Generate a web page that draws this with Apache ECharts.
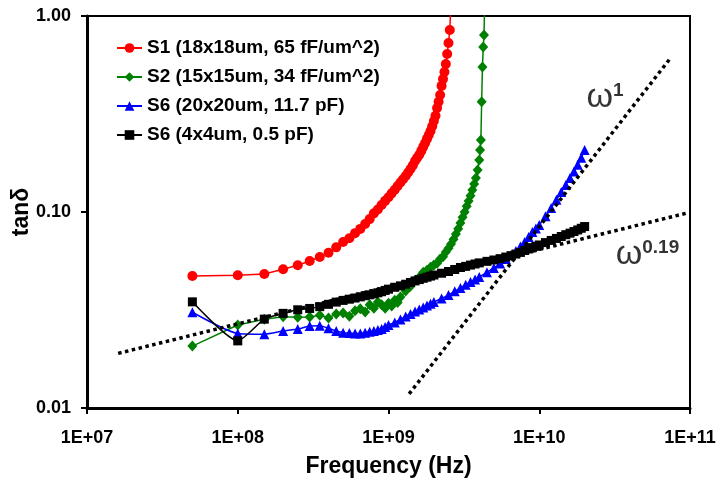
<!DOCTYPE html>
<html><head><meta charset="utf-8">
<script src="https://cdn.jsdelivr.net/npm/echarts@6/dist/echarts.min.js"></script>
<style>html,body{margin:0;padding:0;background:#fff}#c{width:718px;height:480px}</style>
</head><body><div id="c"></div>
<script>
// ---- data ----
const seriesNames = ['S1 (18x18um, 65 fF/um^2)', 'S2 (15x15um, 34 fF/um^2)', 'S6 (20x20um, 11.7 pF)', 'S6 (4x4um, 0.5 pF)'];

const freqS1 = [5e7,1e8,1.5e8,2e8,2.5e8,3e8,3.5e8,4e8,4.5e8,5e8,5.5e8,6e8,6.5e8,7e8,7.5e8,8e8,8.5e8,9e8,9.5e8,1e9,
  1.05e9,1.1e9,1.15e9,1.2e9,1.25e9,1.3e9,1.35e9,1.4e9,1.45e9,1.5e9,1.55e9,1.6e9,1.65e9,1.7e9,1.75e9,1.8e9,1.85e9,1.9e9,1.95e9,2e9,
  2.05e9,2.1e9,2.15e9,2.2e9,2.25e9,2.3e9,2.35e9,2.4e9,2.45e9,2.5e9,2.55e9,2.6e9];
const tanS1 = [0.0471,0.0476,0.0483,0.051,0.0535,0.0562,0.0589,0.062,0.066,0.0703,0.0734,0.078,0.082,0.0869,0.092,0.0984,0.103,0.1086,0.114,0.119,
  0.1245,0.130,0.1357,0.1415,0.147,0.1527,0.159,0.1657,0.173,0.182,0.189,0.196,0.205,0.215,0.225,0.236,0.247,0.259,0.274,0.291,
  0.31,0.339,0.365,0.395,0.44,0.477,0.518,0.569,0.64,0.728,0.848,1.2];

const freqS2 = [5e7,1e8,1.5e8,2e8,2.5e8,3e8,3.5e8,4e8,4.5e8,5e8,5.5e8,6e8,6.5e8,7e8,7.5e8,8e8,8.5e8,9e8,9.5e8,1e9,
  1.05e9,1.1e9,1.15e9,1.2e9,1.3e9,1.4e9,1.5e9,1.6e9,1.7e9,1.8e9,1.9e9,2e9,2.1e9,2.2e9,2.3e9,2.4e9,2.5e9,2.6e9,2.7e9,2.8e9,
  2.9e9,3e9,3.1e9,3.2e9,3.3e9,3.4e9,3.5e9,3.6e9,3.7e9,3.8e9,3.9e9,4e9,4.05e9,4.1e9,4.15e9,4.2e9,4.25e9,4.3e9,4.35e9];
const tanS2 = [0.0207,0.0265,0.0284,0.0292,0.029,0.0291,0.0297,0.0288,0.0302,0.0305,0.0294,0.0313,0.0321,0.0309,0.0336,0.0323,0.0347,0.0336,0.0323,0.0342,
  0.0331,0.0355,0.0345,0.0368,0.0395,0.0418,0.0448,0.0465,0.0492,0.0505,0.0522,0.0537,0.0548,0.0575,0.0591,0.0625,0.0653,0.0687,0.0725,0.0772,
  0.0822,0.0879,0.094,0.100,0.107,0.1138,0.121,0.1295,0.139,0.149,0.164,0.184,0.207,0.233,0.365,0.55,0.695,0.80,1.2];

const freqS6 = [5e7,1e8,1.5e8,2e8,2.5e8,3e8,3.5e8,4e8,4.5e8,5e8,5.5e8,6e8,6.5e8,7e8,7.5e8,8e8,8.5e8,9e8,9.5e8,1e9,
  1.1e9,1.2e9,1.3e9,1.4e9,1.5e9,1.6e9,1.7e9,1.8e9,1.9e9,2e9,2.25e9,2.5e9,2.75e9,3e9,3.25e9,3.5e9,3.75e9,4e9,4.5e9,5e9,
  5.5e9,6e9,6.5e9,7e9,7.5e9,8e9,8.5e9,9e9,9.5e9,1e10,1.1e10,1.2e10,1.3e10,1.4e10,1.5e10,1.6e10,1.7e10,1.8e10,1.9e10,2e10];
const tanS6big = [0.0308,0.024,0.0238,0.0247,0.0253,0.0262,0.0263,0.0255,0.0247,0.0242,0.0241,0.024,0.024,0.0242,0.0245,0.0247,0.025,0.0253,0.0259,0.0265,
  0.0273,0.0283,0.0293,0.0302,0.0311,0.0318,0.0326,0.0333,0.034,0.0347,0.0362,0.0377,0.0394,0.041,0.0425,0.044,0.0453,0.0466,0.0492,0.0518,
  0.0546,0.0575,0.0604,0.0633,0.0667,0.0703,0.0745,0.079,0.0823,0.0859,0.095,0.1048,0.1155,0.1265,0.1375,0.149,0.161,0.174,0.189,0.207];
const tanS6small = [0.0348,0.022,0.0284,0.0304,0.0317,0.0322,0.0329,0.0338,0.0347,0.0354,0.0359,0.0364,0.0369,0.0374,0.0378,0.0382,0.0387,0.0392,0.0398,0.0404,
  0.0413,0.042,0.0428,0.0437,0.0445,0.0452,0.0459,0.0465,0.0471,0.0477,0.0487,0.0497,0.0509,0.0521,0.0528,0.0536,0.0543,0.055,0.056,0.0569,
  0.0578,0.0589,0.0599,0.061,0.0622,0.0636,0.0648,0.0658,0.0668,0.0679,0.0698,0.0716,0.0733,0.075,0.0766,0.078,0.0795,0.081,0.0826,0.0843];

// guide lines (end points)
const omega1X = [1.37e9, 7.3e10];
const omega1Y = [0.0118, 0.60];
const omega019X = [1.61e7, 9.75e10];
const omega019Y = [0.019, 0.0992];

// annotation texts
const noteX = [2.73e10, 5.22e10];
const noteY = [0.382, 0.0605];
const noteBase = ['ω', 'ω'];
const noteSup = ['1', '0.19'];

const xTicks = ['1E+07','1E+08','1E+09','1E+10','1E+11'];
const yTicks = ['0.01','0.10','1.00'];

// ---- chart ----
function pairs(xs, ys) { return xs.map((x, i) => [x, ys[i]]); }
const F = 'Arial, "Liberation Sans", Helvetica, sans-serif';
const chart = echarts.init(document.getElementById('c'), null, {renderer: 'canvas'});

function dataSeries(name, xs, ys, color, symbol, size, smooth) {
  return {
    name, type: 'line', data: pairs(xs, ys), symbol, symbolSize: size, smooth: smooth || false,
    showSymbol: true, clip: true,
    lineStyle: {color, width: 1.5}, itemStyle: {color, borderWidth: 0},
    emphasis: {disabled: true}, z: 3
  };
}

const option = {
  animation: false,
  backgroundColor: '#fff',
  grid: {left: 87, right: 28, top: 16, bottom: 72, containLabel: false, outerBoundsMode: 'none',
    show: true, borderColor: '#000', borderWidth: 2, backgroundColor: 'transparent'},
  legend: {
    data: seriesNames, orient: 'vertical', left: 116, top: 38, padding: 0,
    itemWidth: 25, itemHeight: 12, itemGap: 9,
    textStyle: {fontFamily: F, fontWeight: 'bold', fontSize: 19, color: '#000', lineHeight: 20}
  },
  xAxis: {
    type: 'log', logBase: 10, min: 1e7, max: 1e11,
    name: 'Frequency (Hz)', nameLocation: 'middle', nameGap: 47, nameMoveOverlap: false,
    nameTextStyle: {fontFamily: F, fontWeight: 'bold', fontSize: 23, color: '#000'},
    axisLine: {show: true, onZero: false, lineStyle: {color: '#000', width: 3}},
    axisTick: {show: true, length: 6, lineStyle: {color: '#000', width: 2}},
    minorTick: {show: false}, splitLine: {show: false},
    axisLabel: {fontFamily: F, fontWeight: 'bold', fontSize: 18, color: '#000', margin: 21,
      formatter: v => xTicks[Math.round(Math.log10(v)) - 7]}
  },
  yAxis: {
    type: 'log', logBase: 10, min: 0.01, max: 1,
    name: 'tanδ', nameLocation: 'middle', nameGap: 54, nameMoveOverlap: false,
    nameTextStyle: {fontFamily: F, fontWeight: 'bold', fontSize: 23, color: '#000'},
    axisLine: {show: true, onZero: false, lineStyle: {color: '#000', width: 3}},
    axisTick: {show: true, length: 6, lineStyle: {color: '#000', width: 2}},
    minorTick: {show: false}, splitLine: {show: false},
    axisLabel: {fontFamily: F, fontWeight: 'bold', fontSize: 18, color: '#000', margin: 16,
      formatter: v => yTicks[Math.round(Math.log10(v)) + 2]}
  },
  series: [
    dataSeries(seriesNames[0], freqS1, tanS1, '#FF0000', 'circle', 10),
    dataSeries(seriesNames[1], freqS2, tanS2, '#008000', 'diamond', [10, 11]),
    dataSeries(seriesNames[2], freqS6, tanS6big, '#0000FF', 'triangle', 10, 0.2),
    dataSeries(seriesNames[3], freqS6, tanS6small, '#000000', 'rect', 9, 0.2),
    {type: 'line', data: pairs(omega1X, omega1Y), symbol: 'none', silent: true, z: 5,
      lineStyle: {color: '#000', width: 3.5, type: [3.5, 3.5]}},
    {type: 'line', data: pairs(omega019X, omega019Y), symbol: 'none', silent: true, z: 5,
      lineStyle: {color: '#000', width: 3.5, type: [3.5, 3.5]}},
    {type: 'scatter', symbolSize: 0, silent: true, z: 6,
      data: noteX.map((x, i) => ({value: [x, noteY[i]], label: {formatter: '{w|' + noteBase[i] + '}{s|' + noteSup[i] + '}'}})),
      label: {show: true, position: 'inside',
        rich: {
          w: {fontFamily: F, fontSize: 34, color: '#000', lineHeight: 34},
          s: {fontFamily: F, fontSize: 19, fontWeight: 'bold', color: '#000', verticalAlign: 'top', lineHeight: 19}
        }}}
  ]
};
chart.setOption(option);
</script>
</body></html>
